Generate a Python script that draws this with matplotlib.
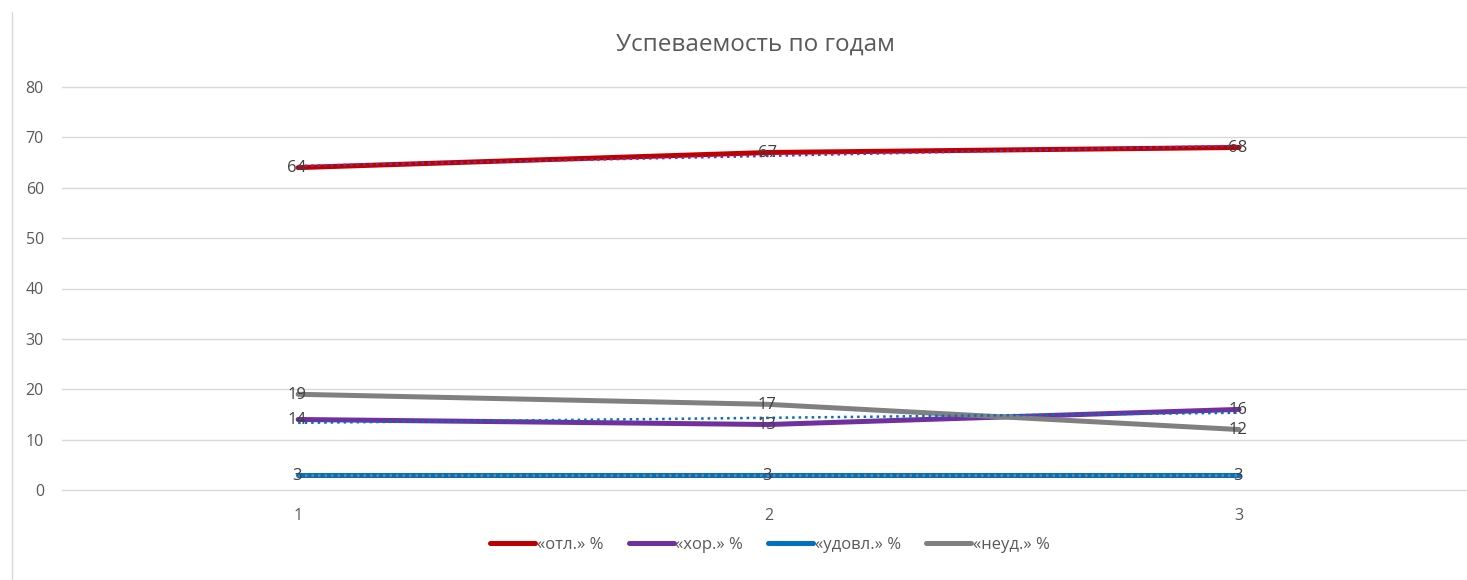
import numpy as np
import matplotlib
matplotlib.use("Agg")
import matplotlib.pyplot as plt
from matplotlib.lines import Line2D

plt.rcParams['font.family'] = ['Open Sans', 'DejaVu Sans']

# данные
years = [1, 2, 3]
otl = [64, 67, 68]
hor = [14, 13, 16]
udovl = [3, 3, 3]
neud = [19, 17, 12]
labels = ['«отл.» %', '«хор.» %', '«удовл.» %', '«неуд.» %']

series = [otl, hor, udovl, neud]
colors = ['#C00000', '#7030A0', '#0070C0', '#808080']
# цвет пунктирной линии тренда для каждого ряда (у «неуд.» тренда нет)
trend_colors = ['#7030A0', '#0070C0', '#808080', None]

fig = plt.figure(figsize=(14.67, 5.8), dpi=100)
ax = fig.add_axes([62 / 1467, 90 / 580, 1 - 62 / 1467, 403 / 580])

for vals, c, lab in zip(series, colors, labels):
    ax.plot(years, vals, color=c, lw=3.6, label=lab, solid_capstyle='round', zorder=3)

# линии тренда
x = np.array(years)
for vals, tc in zip(series, trend_colors):
    if tc is None:
        continue
    k, b = np.polyfit(x, vals, 1)
    ax.plot(x, k * x + b, color=tc, lw=1.8, linestyle=(0, (1, 1.6)), zorder=4)

# подписи данных
for vals in series:
    for xi, v in zip(years, vals):
        ax.annotate(str(v), (xi, v), xytext=(-1, -0.5), textcoords='offset points',
                    ha='center', va='center', fontsize=12, color='#404040', zorder=5)

ax.set_xlim(0.498, 3.4846)
ax.set_ylim(0, 80)
ax.set_yticks(range(0, 81, 10))
ax.set_xticks(years)
ax.grid(axis='y', color='#D9D9D9', lw=1)
for gl in ax.get_ygridlines():
    gl.set_clip_on(False)
ax.set_axisbelow(True)
for s in ax.spines.values():
    s.set_visible(False)
ax.tick_params(length=0, colors='#595959', labelsize=11.5)
ax.tick_params(axis='y', pad=13)
ax.tick_params(axis='x', pad=13)

fig.text(755 / 1467, 1 - 45 / 580, 'Успеваемость по годам', ha='center', va='center',
         fontsize=17.5, color='#595959')

ax.legend(loc='center', bbox_to_anchor=(770 / 1467, 1 - 545 / 580), bbox_transform=fig.transFigure,
          ncol=4, frameon=False, fontsize=12, labelcolor='#595959', handlelength=2.7,
          handletextpad=0.1, columnspacing=1.5)

# рамка области диаграммы слева
fig.add_artist(Line2D([11.5 / 1467, 11.5 / 1467], [0, 1 - 12 / 580], color='#D9D9D9', lw=1))

fig.savefig('out.png', dpi=100)
